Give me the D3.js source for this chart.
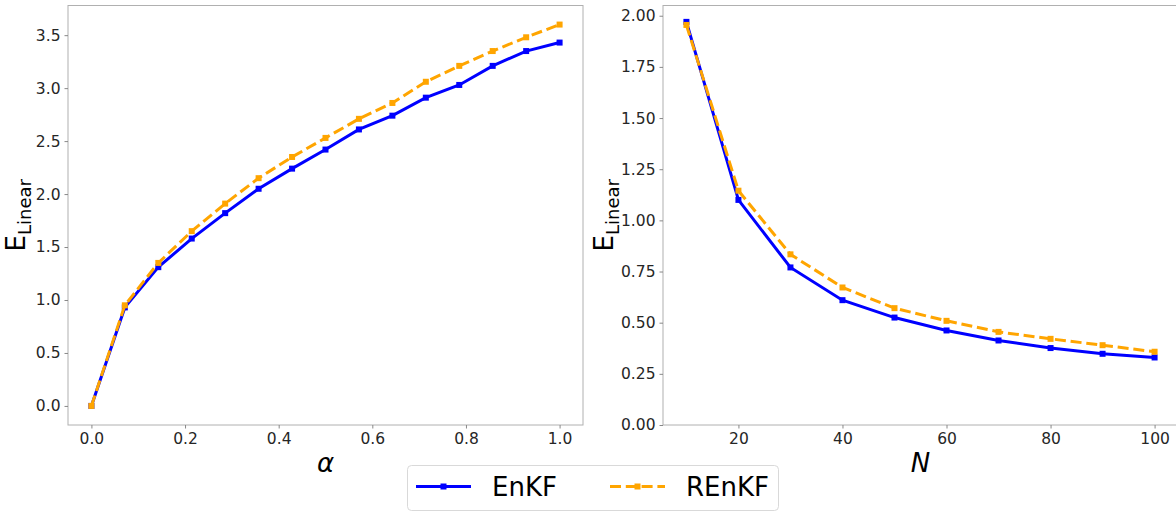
<!DOCTYPE html>
<html>
<head>
<meta charset="utf-8">
<script src="https://cdn.jsdelivr.net/npm/d3@7"></script>
<style>
  body { margin: 0; background: #fff; }
  text { font-family: "DejaVu Sans", sans-serif; }
</style>
</head>
<body>
<svg id="chart" width="1176" height="512"></svg>
<script>
// left panel: error vs alpha
const alphaValues = [0, 0.0714, 0.1429, 0.2143, 0.2857, 0.3571, 0.4286, 0.5,
    0.5714, 0.6429, 0.7143, 0.7857, 0.8571, 0.9286, 1.0];
const enkfByAlpha = [0.0, 0.93, 1.31, 1.58, 1.82, 2.05, 2.24, 2.42,
    2.61, 2.74, 2.91, 3.03, 3.21, 3.35, 3.43];
const renkfByAlpha = [0.0, 0.95, 1.35, 1.65, 1.91, 2.15, 2.35, 2.53,
    2.71, 2.86, 3.06, 3.21, 3.35, 3.48, 3.60];
const alphaTicks = [0, 0.2, 0.4, 0.6, 0.8, 1.0];
const alphaErrTicks = [0, 0.5, 1.0, 1.5, 2.0, 2.5, 3.0, 3.5];

// right panel: error vs ensemble size
const ensembleSizes = [10, 20, 30, 40, 50, 60, 70, 80, 90, 100];
const enkfByN = [1.97, 1.10, 0.77, 0.61, 0.525, 0.462, 0.413, 0.376, 0.348, 0.330];
const renkfByN = [1.955, 1.145, 0.834, 0.672, 0.571, 0.509, 0.455, 0.421, 0.390, 0.358];
const nTicks = [20, 40, 60, 80, 100];
const nErrTicks = [0, 0.25, 0.5, 0.75, 1.0, 1.25, 1.5, 1.75, 2.0];

const seriesNames = ['EnKF', 'REnKF'];

const blue = '#0000ff';
const orange = '#ffa500';
const spine = '#b0b0b0';

const svg = d3.select('#chart');

const drawPanel = (p) => {
    const x = d3.scaleLinear().domain(p.xDomain).range([p.left, p.right]);
    const y = d3.scaleLinear().domain(p.yDomain).range([p.bottom, p.top]);

    const g = svg.append('g');

    g.append('rect')
        .attr('x', p.left).attr('y', p.top)
        .attr('width', p.right - p.left).attr('height', p.bottom - p.top)
        .attr('fill', 'none')
        .attr('stroke', spine)
        .attr('stroke-width', 1);

    const xAxis = g.append('g')
        .attr('transform', `translate(0, ${p.bottom})`)
        .call(d3.axisBottom(x).tickValues(p.xTicks).tickFormat(d3.format(p.xFormat))
            .tickSize(3.5).tickPadding(4));
    const yAxis = g.append('g')
        .attr('transform', `translate(${p.left}, 0)`)
        .call(d3.axisLeft(y).tickValues(p.yTicks).tickFormat(d3.format(p.yFormat))
            .tickSize(3.5).tickPadding(4));

    [xAxis, yAxis].forEach(a => {
        a.select('.domain').remove();
        a.selectAll('line').attr('stroke', '#888');
        a.selectAll('text')
            .attr('font-size', '15.5px')
            .attr('fill', '#262626')
            .style('font-family', '"DejaVu Sans"');
    });

    const line = d3.line()
        .x(d => x(d[0]))
        .y(d => y(d[1]));

    const series = [
        { values: p.a, color: blue, dash: null },
        { values: p.b, color: orange, dash: '11,4.8' }
    ];

    series.forEach(s => {
        const pts = p.xs.map((v, i) => [v, s.values[i]]);
        g.append('path')
            .datum(pts)
            .attr('d', line)
            .attr('fill', 'none')
            .attr('stroke', s.color)
            .attr('stroke-width', 3)
            .attr('stroke-dasharray', s.dash);
        g.selectAll(null)
            .data(pts)
            .join('rect')
            .attr('x', d => x(d[0]) - 3)
            .attr('y', d => y(d[1]) - 3)
            .attr('width', 6)
            .attr('height', 6)
            .attr('fill', s.color);
    });

    // x label
    g.append('text')
        .attr('x', (p.left + p.right) / 2)
        .attr('y', p.bottom + 47)
        .attr('text-anchor', 'middle')
        .attr('font-size', '26px')
        .attr('font-style', 'italic')
        .text(p.xLabel);

    // y label E_Linear
    const yl = g.append('text')
        .attr('transform', `translate(${p.left - p.yLabelOffset}, ${(p.top + p.bottom) / 2}) rotate(-90)`)
        .attr('text-anchor', 'middle');
    yl.append('tspan').attr('font-size', '26px').text('E');
    yl.append('tspan').attr('font-size', '18px').attr('dy', 6).text('Linear');
};

drawPanel({
    left: 68, right: 583, top: 5.5, bottom: 425,
    xDomain: [-0.05, 1.05], yDomain: [-0.18, 3.78],
    xTicks: alphaTicks, yTicks: alphaErrTicks,
    xFormat: '.1f', yFormat: '.1f',
    xs: alphaValues, a: enkfByAlpha, b: renkfByAlpha,
    xLabel: 'α', yLabelOffset: 43
});

drawPanel({
    left: 663, right: 1178, top: 5.5, bottom: 425,
    xDomain: [5.5, 104.5], yDomain: [0, 2.05],
    xTicks: nTicks, yTicks: nErrTicks,
    xFormat: 'd', yFormat: '.2f',
    xs: ensembleSizes, a: enkfByN, b: renkfByN,
    xLabel: 'N', yLabelOffset: 50
});

// legend
const legend = svg.append('g');
legend.append('rect')
    .attr('x', 407.5).attr('y', 465.5)
    .attr('width', 371).attr('height', 45)
    .attr('rx', 4)
    .attr('fill', '#fff')
    .attr('stroke', '#d9d9d9');

const legendItems = [
    { name: seriesNames[0], color: blue, dash: null, x0: 416 },
    { name: seriesNames[1], color: orange, dash: '11,4.8', x0: 610 }
];
legendItems.forEach(it => {
    legend.append('line')
        .attr('x1', it.x0).attr('x2', it.x0 + 55)
        .attr('y1', 486.5).attr('y2', 486.5)
        .attr('stroke', it.color)
        .attr('stroke-width', 3)
        .attr('stroke-dasharray', it.dash);
    legend.append('rect')
        .attr('x', it.x0 + 27.5 - 3).attr('y', 486.5 - 3)
        .attr('width', 6).attr('height', 6)
        .attr('fill', it.color);
    legend.append('text')
        .attr('x', it.x0 + 76)
        .attr('y', 496)
        .attr('font-size', '26px')
        .attr('fill', '#000')
        .text(it.name);
});
</script>
</body>
</html>
